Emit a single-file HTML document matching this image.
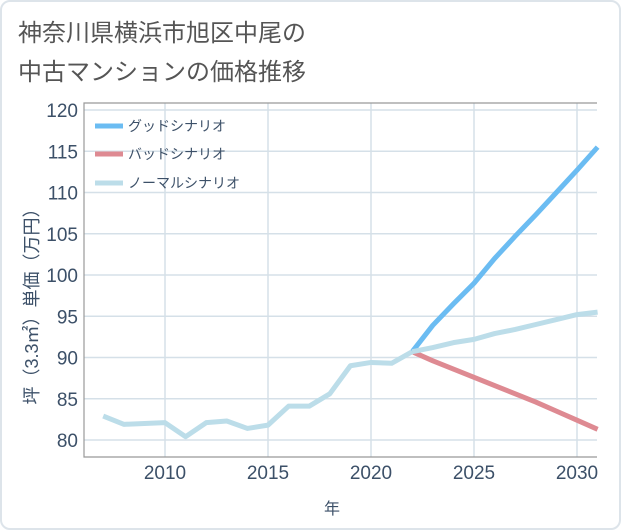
<!DOCTYPE html>
<html><head><meta charset="utf-8"><style>
body{margin:0;background:#fff;font-family:"Liberation Sans","Noto Sans CJK JP",sans-serif;}
#card{position:absolute;left:0;top:0;width:617px;height:526px;border:2px solid #dde4ea;border-radius:10px;background:#fff;}
</style></head><body>
<div id="card"></div>
<svg id="chart" width="621" height="530" style="position:absolute;left:0;top:0">
<text x="18" y="41" font-size="24" fill="#555">神奈川県横浜市旭区中尾の</text>
<text x="18" y="80" font-size="24" fill="#555">中古マンションの価格推移</text>
<g id="grid"></g><g id="series"></g><g id="axes"></g>
<text x="332" y="514" font-size="16" fill="#3c5068" text-anchor="middle">年</text>
<text transform="translate(38,302) rotate(-90)" font-size="18" fill="#3c5068" text-anchor="middle">坪（3.3㎡）単価（万円）</text>
<g>
<line x1="95" y1="126" x2="123" y2="126" stroke="#6bbcf2" stroke-width="5"/>
<text x="128" y="131" font-size="14" fill="#3c5068">グッドシナリオ</text>
<line x1="95" y1="154" x2="123" y2="154" stroke="#de8a92" stroke-width="5"/>
<text x="128" y="159" font-size="14" fill="#3c5068">バッドシナリオ</text>
<line x1="95" y1="183" x2="123" y2="183" stroke="#bcdde9" stroke-width="5"/>
<text x="128" y="188" font-size="14" fill="#3c5068">ノーマルシナリオ</text>
</g>
</svg>
<script>
const histYears=[2007,2008,2009,2010,2011,2012,2013,2014,2015,2016,2017,2018,2019,2020,2021,2022];
const histVals=[82.9,81.9,82.0,82.1,80.4,82.1,82.3,81.4,81.8,84.1,84.1,85.6,89.0,89.4,89.3,90.7];
const projYears=[2022,2023,2024,2025,2026,2027,2028,2029,2030,2031];
const goodVals=[90.7,93.9,96.5,99.0,102.0,104.7,107.3,110.0,112.7,115.5];
const badVals=[90.7,89.6,88.6,87.6,86.6,85.6,84.6,83.5,82.4,81.3];
const normalVals=[90.7,91.2,91.8,92.2,92.9,93.4,94.0,94.6,95.2,95.5];
const yTicks=[80,85,90,95,100,105,110,115,120];
const xTicks=[2010,2015,2020,2025,2030];
const L=84,R=597,T=103,B=457;
const xs=y=>165+(y-2010)*20.6;
const ys=v=>440-(v-80)*8.25;
const NS="http://www.w3.org/2000/svg";
function mk(t,a,p){const e=document.createElementNS(NS,t);for(const k in a)e.setAttribute(k,a[k]);p.appendChild(e);return e;}
const grid=document.getElementById('grid'),axes=document.getElementById('axes'),ser=document.getElementById('series');
yTicks.forEach(v=>{
 const l=mk('line',{x1:L,x2:R,y1:ys(v),y2:ys(v),stroke:'#d5e0e8','stroke-width':1.5},grid);
 
 
 const t=mk('text',{x:L-6,y:ys(v)+7,'font-size':19,fill:'#3c5068','text-anchor':'end'},axes);
 t.textContent=v;
 
 
});
xTicks.forEach(v=>{
 const l=mk('line',{x1:xs(v),x2:xs(v),y1:T,y2:B,stroke:'#d5e0e8','stroke-width':1.5},grid);
 
 
 const t=mk('text',{x:xs(v),y:B+22,'font-size':19,fill:'#3c5068','text-anchor':'middle'},axes);
 t.textContent=v;
 
 
});
const fr=mk('polyline',{points:`${R},${T} ${L},${T} ${L},${B} ${R},${B}`,fill:'none',stroke:'#999','stroke-width':1.2},axes);


function line(xv,yv,c,name){
 const p=mk('polyline',{points:xv.map((x,i)=>xs(x)+','+ys(yv[i])).join(' '),fill:'none',stroke:c,'stroke-width':5,'stroke-linejoin':'round'},ser);
 
 
}
line(projYears,badVals,'#de8a92','bad-scenario-line');
line(projYears,goodVals,'#6bbcf2','good-scenario-line');
line(projYears,normalVals,'#bcdde9','normal-scenario-line');
line(histYears,histVals,'#bcdde9','historical-line');
</script>
</body></html>
